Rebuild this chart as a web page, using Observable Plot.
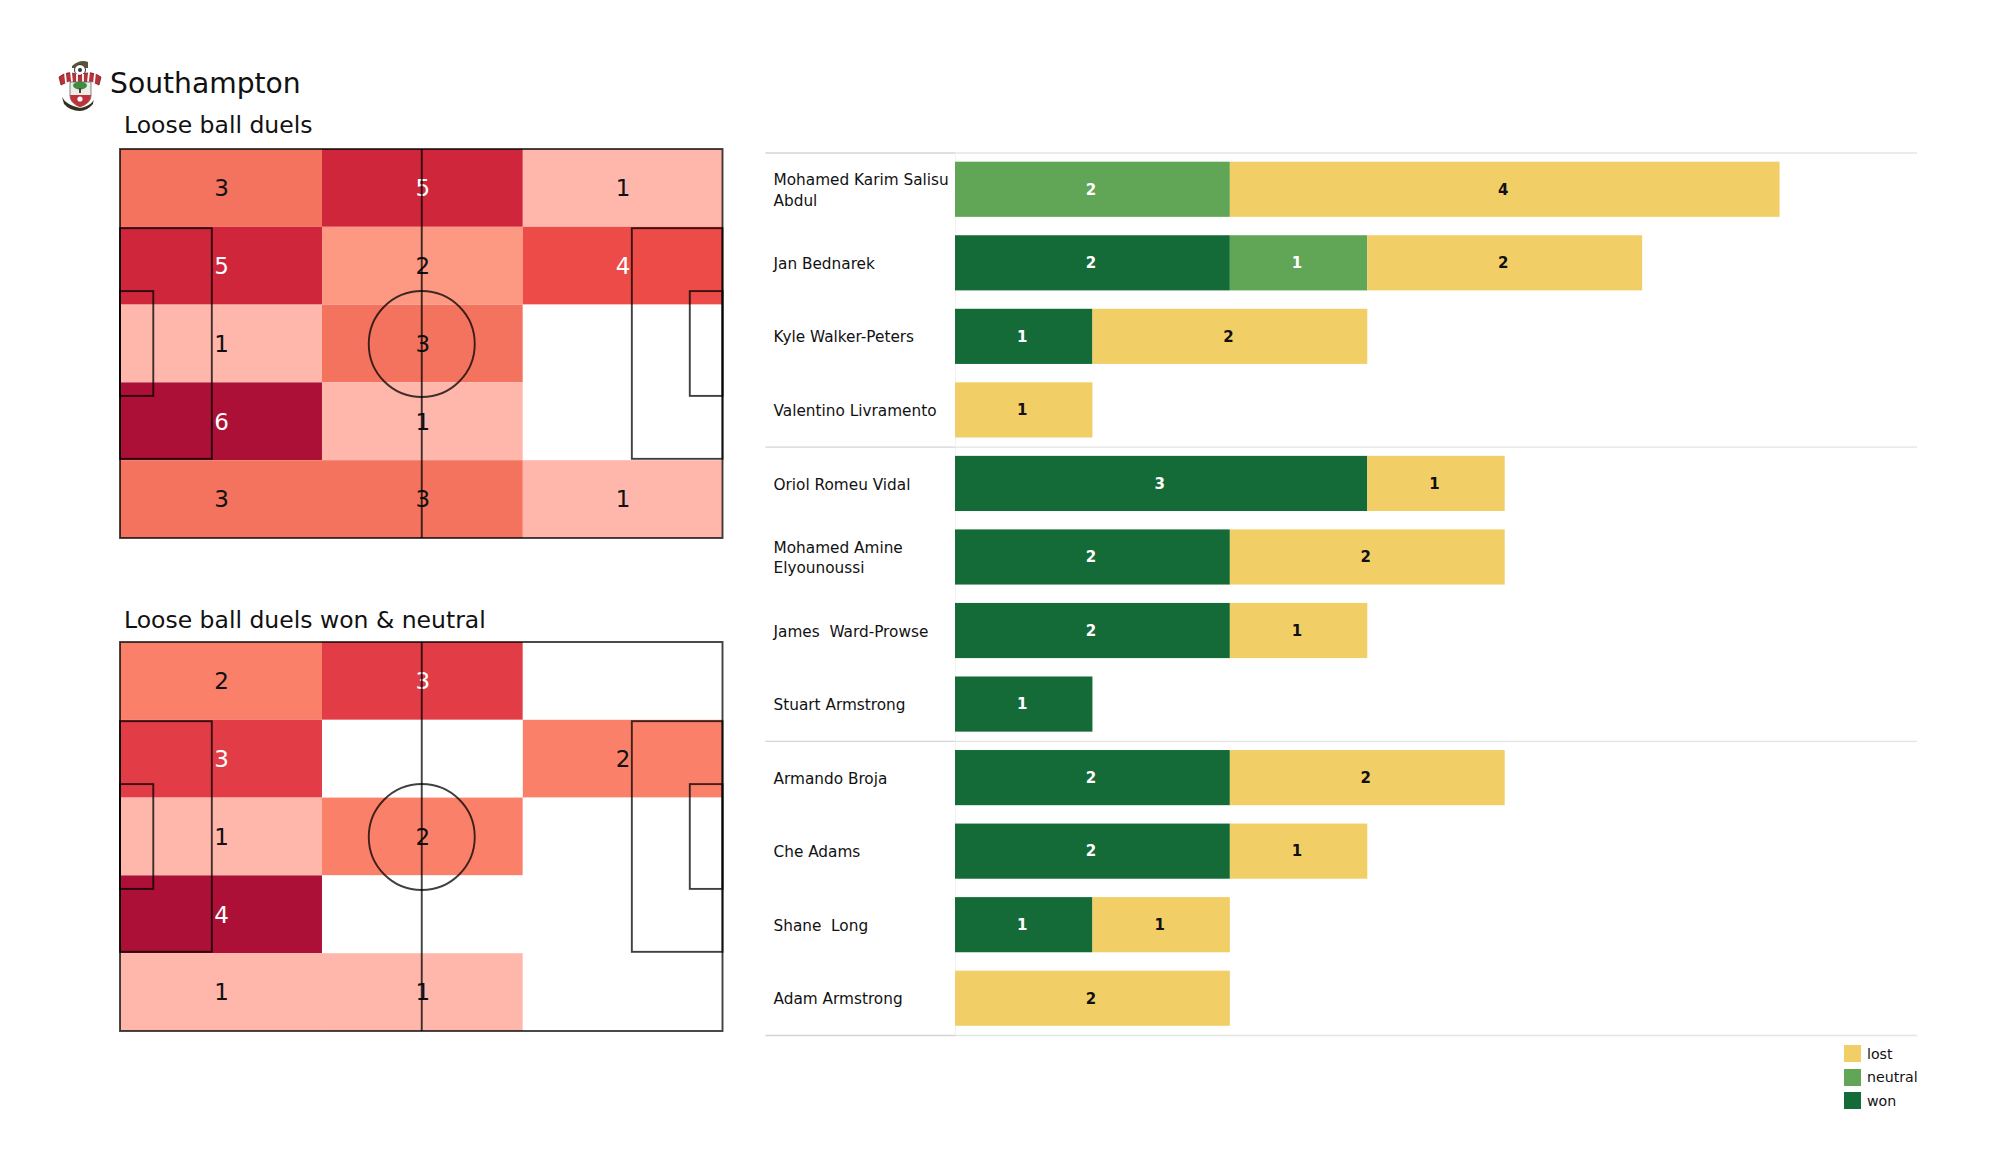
<!DOCTYPE html>
<html>
<head>
<meta charset="utf-8">
<script src="https://cdn.jsdelivr.net/npm/d3@7"></script>
<script src="https://cdn.jsdelivr.net/npm/@observablehq/plot@0.6"></script>
<style>
  html, body { margin: 0; padding: 0; background: #fff; }
  #page { position: relative; width: 2000px; height: 1175px; overflow: hidden; font-family: "DejaVu Sans", sans-serif; color: #111; }
  #page > * { position: absolute; }
  .t { white-space: pre; line-height: 1; }
  .sw { width: 17px; height: 17px; }
</style>
</head>
<body>
<div id="page"></div>
<script>
// ---- data ----
const teamName = "Southampton";
const pitchTitleAll = "Loose ball duels";
const pitchTitleWon = "Loose ball duels won & neutral";

const colEdges = [0, 35.2, 70.2, 105];
const rowEdges = [0, 13.6, 27.2, 40.8, 54.4, 68];

const duelsAll = [
  [3, 5, 1],
  [5, 2, 4],
  [1, 3, 0],
  [6, 1, 0],
  [3, 3, 1]
];
const duelsWon = [
  [2, 3, 0],
  [3, 0, 2],
  [1, 2, 0],
  [4, 0, 0],
  [1, 1, 0]
];
const colorsAll = ["#ffffff", "#ffb7ac", "#fd9983", "#f4735e", "#ec4b48", "#cf263c", "#ac1036"];
const colorsWon = ["#ffffff", "#ffb7ac", "#fb8069", "#e23c46", "#ac1036"];
const whiteFromAll = 4;
const whiteFromWon = 3;

const players = [
  "Mohamed Karim Salisu\nAbdul", "Jan Bednarek", "Kyle Walker-Peters", "Valentino Livramento",
  "Oriol Romeu Vidal", "Mohamed Amine\nElyounoussi", "James  Ward-Prowse", "Stuart Armstrong",
  "Armando Broja", "Che Adams", "Shane  Long", "Adam Armstrong"
];
const won     = [0, 2, 1, 0, 3, 2, 2, 1, 2, 2, 1, 0];
const neutral = [2, 1, 0, 0, 0, 0, 0, 0, 0, 0, 0, 0];
const lost    = [4, 2, 2, 1, 1, 2, 1, 0, 2, 1, 1, 2];
const groupStarts = [0, 4, 8];

const outcomes = ["won", "neutral", "lost"];
const outcomeColors = ["#156b38", "#60a656", "#f2cf66"];
const legendOrder = ["lost", "neutral", "won"];

// ---- pitch geometry in metres ----
const FONT = "DejaVu Sans";
const pitchLines = [
  {x1: 0, x2: 105, y1: 0, y2: 68},
  {x1: 0, x2: 16, y1: 13.84, y2: 54.16},
  {x1: 0, x2: 5.8, y1: 24.84, y2: 43.16},
  {x1: 89.2, x2: 105, y1: 13.84, y2: 54.16},
  {x1: 99.3, x2: 105, y1: 24.84, y2: 43.16}
];
const page = document.getElementById("page");

function place(el, left, top) {
  el.style.left = left + "px";
  el.style.top = top + "px";
  page.appendChild(el);
  return el;
}
function label(text, left, top, size) {
  const d = document.createElement("div");
  d.className = "t";
  d.textContent = text;
  d.style.fontSize = size + "px";
  return place(d, left, top);
}

function pitch(grid, palette, whiteFrom) {
  const cells = grid.flatMap((row, r) => row.map((v, c) => ({
    v, x1: colEdges[c], x2: colEdges[c + 1], y1: rowEdges[r], y2: rowEdges[r + 1]
  })));
  const lineColor = "rgba(0,0,0,0.75)";
  return Plot.plot({
    width: 640, height: 400,
    marginLeft: 20, marginRight: 17.5, marginTop: 9, marginBottom: 2,
    x: {domain: [0, 105], axis: null},
    y: {domain: [0, 68], reverse: true, axis: null},
    color: {type: "linear", domain: palette.map((_, i) => i), range: palette, interpolate: "rgb"},
    style: {background: "transparent", fontFamily: FONT},
    marks: [
      Plot.rect(cells, {x1: "x1", x2: "x2", y1: "y1", y2: "y2", fill: "v"}),
      Plot.text(cells.filter(d => d.v > 0), {
        x: d => (d.x1 + d.x2) / 2, y: d => (d.y1 + d.y2) / 2, text: d => String(d.v),
        fontSize: 23, dy: 0.5,
        fill: d => d.v >= whiteFrom ? "#ffffff" : "#111111"
      }),
      Plot.rect(pitchLines, {x1: "x1", x2: "x2", y1: "y1", y2: "y2", fill: "none", stroke: lineColor, strokeWidth: 1.9}),
      Plot.ruleX([52.5], {y1: 0, y2: 68, stroke: lineColor, strokeWidth: 1.9}),
      Plot.dot([{x: 52.5, y: 34}], {x: "x", y: "y", r: 53, fill: "none", stroke: lineColor, strokeWidth: 1.9})
    ]
  });
}

// ---- crest ----
const crest = document.createElementNS("http://www.w3.org/2000/svg", "svg");
crest.setAttribute("width", 70);
crest.setAttribute("height", 70);
crest.setAttribute("viewBox", "0 0 70 70");
crest.innerHTML = `
  <path d="M22 16 Q30 9 38 12 L38 18 L22 18 Z" fill="#5a5538"/>
  <circle cx="30" cy="20" r="5.5" fill="#fff" stroke="#333" stroke-width="1"/>
  <circle cx="30" cy="20" r="2" fill="#333"/>
  <path d="M9 27 Q19 19 29 26 Q40 19 51 27 L49 35 L41 31 L30 33 L19 31 L11 35 Z" fill="#b8323a" stroke="#7a1a22" stroke-width="0.8"/>
  <path d="M15 23 L16 33 M21 22 L22 32 M27 24 L27 33 M33 24 L33 33 M39 22 L38 32 M45 23 L44 33" stroke="#fff" stroke-width="1.8"/>
  <path d="M20 32 L41 32 L41 46 Q41 53 30 57 Q20 53 20 46 Z" fill="#ecece8" stroke="#666" stroke-width="0.8"/>
  <path d="M20 45 L41 45 Q41 53 30 57 Q20 53 20 45 Z" fill="#c0303a"/>
  <ellipse cx="30" cy="35.5" rx="7" ry="4" fill="#3f8d45"/>
  <rect x="29" y="38" width="2" height="5" fill="#5a3a20"/>
  <circle cx="30" cy="49" r="2.6" fill="#fff"/>
  <path d="M12 47 Q16 55 30 58 Q44 55 44 47 L43 54 Q37 61 30 61 Q20 61 14 54 Z" fill="#33301f"/>`;
place(crest, 50, 50);

// ---- titles ----
label(teamName, 110, 70, 28.2);
label(pitchTitleAll, 124, 114, 23.5);
label(pitchTitleWon, 124, 609, 23.5);

// ---- pitches ----
place(pitch(duelsAll, colorsAll, whiteFromAll), 100, 140);
place(pitch(duelsWon, colorsWon, whiteFromWon), 100, 633);

// ---- bars ----
const barRows = players.flatMap((name, i) => {
  const vals = [won[i], neutral[i], lost[i]];
  return outcomes.map((o, k) => ({name, outcome: o, value: vals[k]})).filter(d => d.value > 0);
});
const firstOfGroup = groupStarts.map(i => players[i]);
const STEP = 73.5;

const bars = Plot.plot({
  width: 1240, height: 1175,
  marginLeft: 195, marginRight: 83, marginTop: 152.5, marginBottom: 140,
  x: {domain: [0, 7], axis: null},
  y: {domain: players, paddingInner: 0.25, paddingOuter: 0.125, round: false, axis: null},
  color: {domain: outcomes, range: outcomeColors},
  style: {background: "transparent", fontFamily: FONT},
  marks: [
    Plot.ruleX([0], {stroke: "#f2f2f2", strokeWidth: 1}),
    Plot.ruleY(firstOfGroup, {y: d => d, x1: -1.38, x2: 0, dy: -STEP / 2, stroke: "#d4d4d4", strokeWidth: 1.3}),
    Plot.ruleY(firstOfGroup, {y: d => d, x1: 0, x2: 7, dy: -STEP / 2, stroke: "#e4e4e4", strokeWidth: 1.3}),
    Plot.ruleY([players[players.length - 1]], {y: d => d, x1: -1.38, x2: 0, dy: STEP / 2, stroke: "#d4d4d4", strokeWidth: 1.3}),
    Plot.ruleY([players[players.length - 1]], {y: d => d, x1: 0, x2: 7, dy: STEP / 2, stroke: "#e4e4e4", strokeWidth: 1.3}),
    Plot.barX(barRows, Plot.stackX({x: "value", y: "name", fill: "outcome"})),
    Plot.text(barRows, Plot.stackX({
      x: "value", y: "name", text: d => String(d.value),
      fontSize: 15, fontWeight: "bold", dx: -2,
      fill: d => d.outcome === "lost" ? "#111111" : "#ffffff"
    })),
    Plot.text(players, {
      x: 0, y: d => d, text: d => d, dx: -182, dy: -1, textAnchor: "start",
      fontSize: 15.3, lineHeight: 1.35, fill: "#111111"
    })
  ]
});
bars.querySelectorAll("text").forEach(t => t.style.whiteSpace = "pre");
place(bars, 760, 0);

// ---- legend ----
legendOrder.forEach((o, i) => {
  const top = 1045 + i * 23.5;
  const s = document.createElement("div");
  s.className = "sw";
  s.style.background = outcomeColors[outcomes.indexOf(o)];
  place(s, 1844, top);
  label(o, 1867, top + 1.5, 14.2);
});
</script>
</body>
</html>
